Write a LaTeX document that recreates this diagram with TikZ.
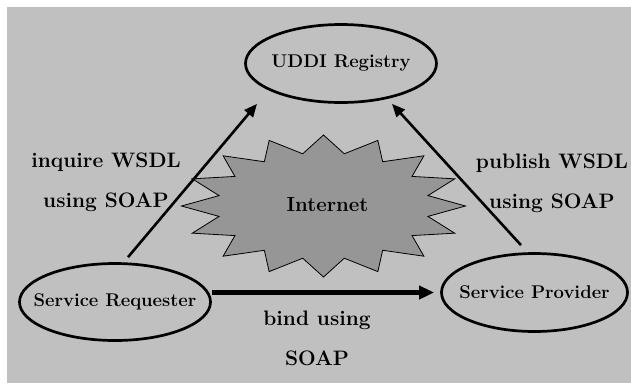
\documentclass[tikz,border=0pt]{standalone}
\usepackage{fontspec}
\usepackage{tikz}
\usetikzlibrary{arrows.meta,shapes.geometric}
\definecolor{bggray}{RGB}{192,192,192}
\definecolor{stargray}{RGB}{150,150,150}
\tikzset{
  ellnode/.style={ellipse, draw, line width=2.7bp, inner xsep=-20bp, inner ysep=0pt,
                  font=\fontsize{18.5}{21}\selectfont\bfseries},
  fwd/.style={-{Triangle[length=13bp, width=11bp]}, line width=2.6bp},
  bind/.style={-{Triangle[length=15bp, width=13bp]}, line width=4.5bp},
  lbl/.style={font=\fontsize{21}{40}\selectfont\bfseries, align=center},
  netstar/.style={draw, fill=stargray, line width=0.8bp},
}

\begin{document}
\begin{tikzpicture}[x=1bp, y=-1bp]
  \useasboundingbox (0,0) rectangle (631,383);
  \fill[bggray] (7,7) rectangle (631,383);

  % the internet star, 16 points
  \draw[netstar] plot[domain=0:31, samples=32, variable=\k]
    ({323.5+142*(0.875+0.125*cos(180*\k))*cos(90-11.25*\k)},
     {206-71*(0.875+0.125*cos(180*\k))*sin(90-11.25*\k)}) -- cycle;
  \node[font=\fontsize{20.5}{24}\selectfont\bfseries] (net) at (327.5,205) {Internet};

  \node[ellnode, minimum width=191bp, minimum height=78bp] (uddi) at (341,63.5) {UDDI Registry};
  \node[ellnode, minimum width=191bp, minimum height=77bp] (req) at (115,302) {Service Requester};
  \node[ellnode, minimum width=186bp, minimum height=78bp] (prov) at (534.5,292.5) {Service Provider};

  \node[lbl] (inq) at (106,182) {inquire WSDL\\using SOAP};
  \node[lbl] (pub) at (552,183) {publish WSDL\\using SOAP};
  \node[lbl] (bnd) at (317,338) {bind using\\SOAP};

  \draw[fwd] ([xshift=13bp, yshift=5bp]req.north) -- ([xshift=-84bp]uddi.south);
  \draw[fwd] ([xshift=-13.5bp, yshift=7bp]prov.north) -- ([xshift=51bp]uddi.south);
  \draw[bind] (req.east |- prov.west) -- ([xshift=-6bp]prov.west);
\end{tikzpicture}
\end{document}
